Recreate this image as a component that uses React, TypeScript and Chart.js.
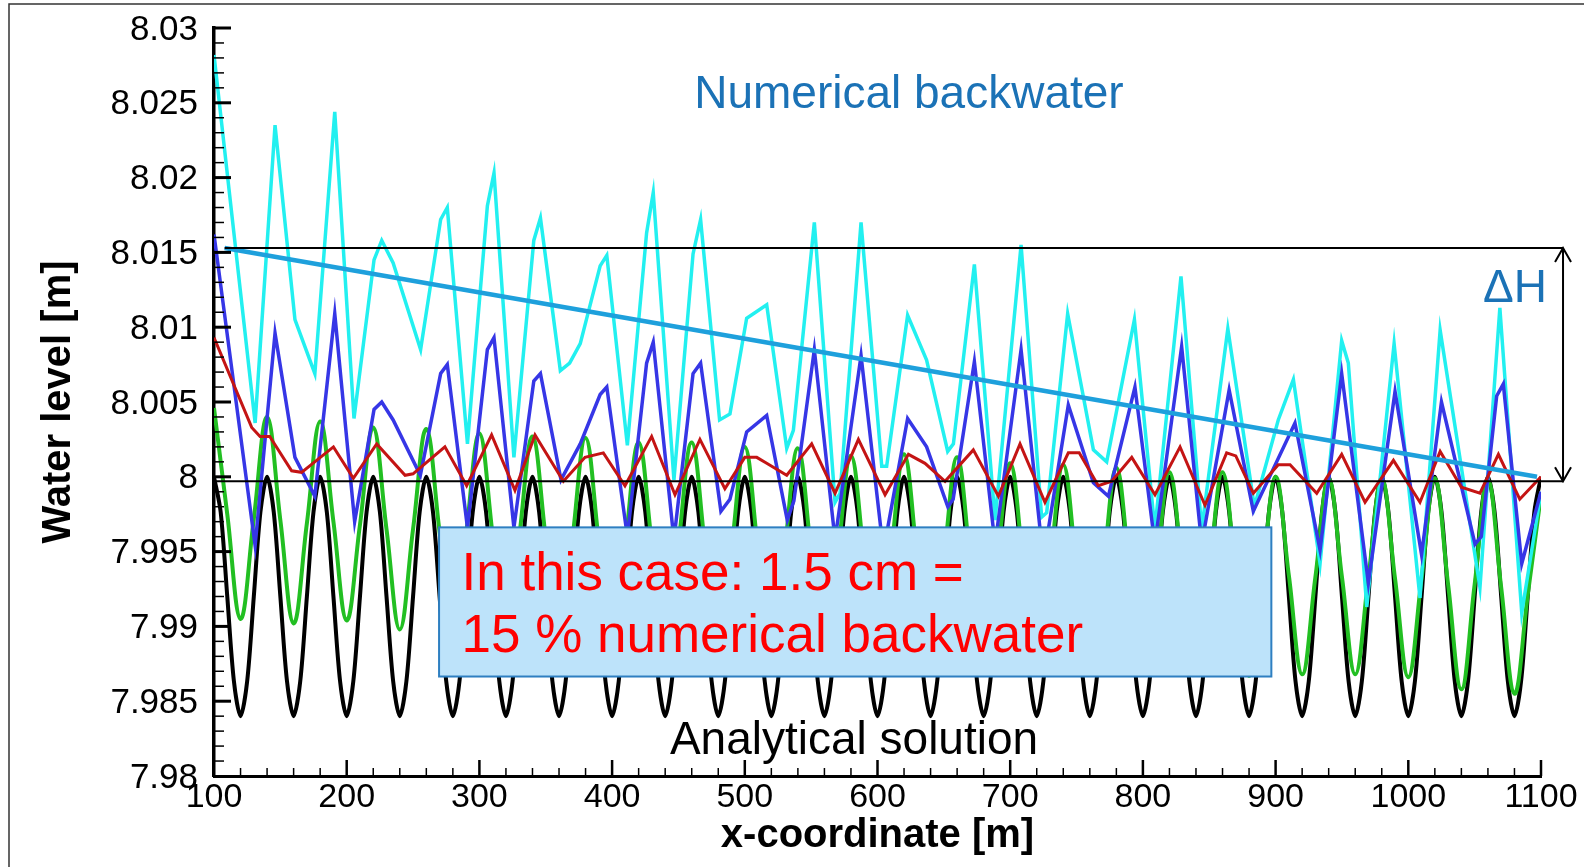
import React, { useEffect, useRef } from "react";
import { Chart, registerables } from "chart.js";

Chart.register(...registerables);

const FONT = '"Liberation Sans", Arial, Helvetica, sans-serif';

// ---- axes ----
const xTickValues = [100, 200, 300, 400, 500, 600, 700, 800, 900, 1000, 1100];
const xTickLabels = ["100", "200", "300", "400", "500", "600", "700", "800", "900", "1000", "1100"];
const yTickValues = [7.98, 7.985, 7.99, 7.995, 8, 8.005, 8.01, 8.015, 8.02, 8.025, 8.03];
const yTickLabels = ["7.98", "7.985", "7.99", "7.995", "8", "8.005", "8.01", "8.015", "8.02", "8.025", "8.03"];

// ---- analytical solution (black) ----
const analyticalX = [
  100, 105, 110, 115, 120, 125, 130, 135, 140, 145, 150, 155, 160, 165, 170, 175, 180, 185, 190, 195,
  200, 205, 210, 215, 220, 225, 230, 235, 240, 245, 250, 255, 260, 265, 270, 275, 280, 285, 290, 295,
  300, 305, 310, 315, 320, 325, 330, 335, 340, 345, 350, 355, 360, 365, 370, 375, 380, 385, 390, 395,
  400, 405, 410, 415, 420, 425, 430, 435, 440, 445, 450, 455, 460, 465, 470, 475, 480, 485, 490, 495,
  500, 505, 510, 515, 520, 525, 530, 535, 540, 545, 550, 555, 560, 565, 570, 575, 580, 585, 590, 595,
  600, 605, 610, 615, 620, 625, 630, 635, 640, 645, 650, 655, 660, 665, 670, 675, 680, 685, 690, 695,
  700, 705, 710, 715, 720, 725, 730, 735, 740, 745, 750, 755, 760, 765, 770, 775, 780, 785, 790, 795,
  800, 805, 810, 815, 820, 825, 830, 835, 840, 845, 850, 855, 860, 865, 870, 875, 880, 885, 890, 895,
  900, 905, 910, 915, 920, 925, 930, 935, 940, 945, 950, 955, 960, 965, 970, 975, 980, 985, 990, 995,
  1000, 1005, 1010, 1015, 1020, 1025, 1030, 1035, 1040, 1045, 1050, 1055, 1060, 1065, 1070, 1075, 1080, 1085, 1090, 1095,
  1100,
];
const analyticalY = [
  8, 7.99766, 7.992, 7.98634, 7.984, 7.98634, 7.992, 7.99766,
  8, 7.99766, 7.992, 7.98634, 7.984, 7.98634, 7.992, 7.99766,
  8, 7.99766, 7.992, 7.98634, 7.984, 7.98634, 7.992, 7.99766,
  8, 7.99766, 7.992, 7.98634, 7.984, 7.98634, 7.992, 7.99766,
  8, 7.99766, 7.992, 7.98634, 7.984, 7.98634, 7.992, 7.99766,
  8, 7.99766, 7.992, 7.98634, 7.984, 7.98634, 7.992, 7.99766,
  8, 7.99766, 7.992, 7.98634, 7.984, 7.98634, 7.992, 7.99766,
  8, 7.99766, 7.992, 7.98634, 7.984, 7.98634, 7.992, 7.99766,
  8, 7.99766, 7.992, 7.98634, 7.984, 7.98634, 7.992, 7.99766,
  8, 7.99766, 7.992, 7.98634, 7.984, 7.98634, 7.992, 7.99766,
  8, 7.99766, 7.992, 7.98634, 7.984, 7.98634, 7.992, 7.99766,
  8, 7.99766, 7.992, 7.98634, 7.984, 7.98634, 7.992, 7.99766,
  8, 7.99766, 7.992, 7.98634, 7.984, 7.98634, 7.992, 7.99766,
  8, 7.99766, 7.992, 7.98634, 7.984, 7.98634, 7.992, 7.99766,
  8, 7.99766, 7.992, 7.98634, 7.984, 7.98634, 7.992, 7.99766,
  8, 7.99766, 7.992, 7.98634, 7.984, 7.98634, 7.992, 7.99766,
  8, 7.99766, 7.992, 7.98634, 7.984, 7.98634, 7.992, 7.99766,
  8, 7.99766, 7.992, 7.98634, 7.984, 7.98634, 7.992, 7.99766,
  8, 7.99766, 7.992, 7.98634, 7.984, 7.98634, 7.992, 7.99766,
  8, 7.99766, 7.992, 7.98634, 7.984, 7.98634, 7.992, 7.99766,
  8, 7.99766, 7.992, 7.98634, 7.984, 7.98634, 7.992, 7.99766,
  8, 7.99766, 7.992, 7.98634, 7.984, 7.98634, 7.992, 7.99766,
  8, 7.99766, 7.992, 7.98634, 7.984, 7.98634, 7.992, 7.99766,
  8, 7.99766, 7.992, 7.98634, 7.984, 7.98634, 7.992, 7.99766,
  8, 7.99766, 7.992, 7.98634, 7.984, 7.98634, 7.992, 7.99766,
  8,
];

// ---- green numerical run ----
const greenX = [
  100, 110, 120, 130, 140, 150, 160, 170, 180, 190, 200, 210, 220, 230, 240, 250, 260, 270, 280, 290,
  300, 310, 320, 330, 340, 350, 360, 370, 380, 390, 400, 410, 420, 430, 440, 450, 460, 470, 480, 490,
  500, 510, 520, 530, 540, 550, 560, 570, 580, 590, 600, 610, 620, 630, 640, 650, 660, 670, 680, 690,
  700, 710, 720, 730, 740, 750, 760, 770, 780, 790, 800, 810, 820, 830, 840, 850, 860, 870, 880, 890,
  900, 910, 920, 930, 940, 950, 960, 970, 980, 990, 1000, 1010, 1020, 1030, 1040, 1050, 1060, 1070, 1080, 1090,
  1100,
];
const greenY = [
  8.0046, 7.9975, 7.9905, 7.9972, 8.004, 7.9971, 7.9902, 7.9969, 8.0037, 7.997,
  7.9904, 7.9968, 8.0033, 7.9965, 7.9898, 7.9965, 8.0032, 7.9963, 7.9895, 7.9962,
  8.0029, 7.9961, 7.9893, 7.996, 8.0027, 7.9959, 7.9891, 7.9958, 8.0026, 7.9957,
  7.9889, 7.9956, 8.0023, 7.9955, 7.9887, 7.9955, 8.0023, 7.9954, 7.9885, 7.9952,
  8.002, 7.9951, 7.9883, 7.9951, 8.0019, 7.995, 7.9881, 7.9947, 8.0014, 7.9946,
  7.9879, 7.9947, 8.0015, 7.9946, 7.9877, 7.9945, 8.0013, 7.9944, 7.9875, 7.9942,
  8.0009, 7.9941, 7.9873, 7.994, 8.0008, 7.9939, 7.9871, 7.9938, 8.0006, 7.9938,
  7.987, 7.9936, 8.0003, 7.9936, 7.9869, 7.9936, 8.0003, 7.9935, 7.9867, 7.9933,
  8.0, 7.9934, 7.9868, 7.9933, 7.9999, 7.9933, 7.9868, 7.9933, 7.9999, 7.9932,
  7.9866, 7.9932, 7.9999, 7.9928, 7.9858, 7.9928, 7.9998, 7.9926, 7.9855, 7.9921,
  7.9988,
];

// ---- red numerical run ----
const redX = [
  100, 128.4, 134.7, 142, 158.5, 166, 190, 205, 222.6, 244, 250, 274, 290.4, 309.2, 326.8, 341.9,
  363.3, 379.6, 393.4, 409.7, 429.8, 447.4, 466.2, 485, 500, 509, 516.5, 531.6, 550.4, 568, 585.6,
  605.7, 623.3, 635.8, 650.9, 672.2, 691.1, 707.4, 726.2, 743.8, 752, 766.4, 776.5, 791.6, 809.1,
  828, 846.8, 863.1, 870, 883.2, 902, 910.9, 931, 949.8, 967.4, 988.8, 1008.8, 1024, 1040, 1054,
  1067.9, 1084, 1100,
];
const redY = [
  8.0093, 8.0033, 8.0027, 8.0027, 8.0004, 8.0003, 8.002, 7.9999, 8.0022, 8.0001, 8.0002, 8.002,
  7.9994, 8.0028, 7.9991, 8.0028, 7.9997, 8.0013, 8.0016, 7.9994, 8.0027, 7.9988, 8.0025, 7.9992,
  8.0013, 8.0013, 8.0009, 8.0001, 8.0022, 7.9989, 8.0025, 7.9988, 8.0015, 8.0009, 7.9997, 8.0018,
  7.9987, 8.0022, 7.9983, 8.0016, 8.0016, 7.9994, 7.9997, 8.0013, 7.9988, 8.002, 7.9981, 8.0016,
  8.0014, 7.9989, 8.0008, 8.0008, 7.9989, 8.0015, 7.9983, 8.0011, 7.9983, 8.0017, 7.9993, 7.9989,
  8.0015, 7.9985, 8.0,
];

// ---- blue numerical run ----
const blueX = [
  100, 131, 146, 161, 176, 191, 206, 220.6, 226.4, 235, 255.5, 270.8, 275.8, 291, 306, 311, 326,
  341, 346, 361.5, 376, 391, 396, 411.5, 426, 431, 446.6, 461, 466.7, 482, 488.8, 501.4, 516.5,
  532, 537, 552.4, 568, 587.6, 603.2, 606.9, 622.7, 637, 653, 657, 673, 688.6, 708.2, 723.7, 727.5,
  743.8, 762.7, 774, 794, 809, 829.2, 844.3, 865, 883.2, 914.6, 933.5, 949.8, 969.9, 990, 1010,
  1025, 1050.3, 1055, 1066.6, 1071.6, 1085.5, 1100,
];
const blueY = [
  8.0162, 7.9954, 8.0096, 8.0013, 7.9987, 8.0109, 7.997, 8.0045, 8.005, 8.0038, 8.0001, 8.0069,
  8.0075, 7.9966, 8.0085, 8.0093, 7.9966, 8.0064, 8.0069, 7.9998, 8.0022, 8.0055, 8.006, 7.996,
  8.0076, 8.009, 7.9958, 8.0069, 8.0076, 7.9977, 7.9985, 8.003, 8.0041, 7.9971, 7.9984, 8.0085,
  7.9958, 8.0081, 7.996, 7.9962, 8.0039, 8.002, 7.998, 7.9985, 8.0077, 7.9955, 8.0085, 7.9955,
  7.9958, 8.0048, 7.9996, 7.9987, 8.006, 7.9955, 8.0087, 7.9955, 8.0058, 7.9977, 8.0036, 7.9951,
  8.0069, 7.9929, 8.0057, 7.9948, 8.005, 7.9955, 7.996, 8.0054, 8.0062, 7.9942, 7.999,
];

// ---- cyan numerical run ----
const cyanX = [
  100, 131, 146, 161, 176, 191, 205.5, 220.6, 226.4, 235, 255.7, 270.8, 275.8, 291, 306, 311, 326,
  341, 346, 361, 368, 376, 391, 396, 411.5, 426, 431, 446.6, 461, 466.7, 481, 488.8, 501.4, 516.5,
  531.6, 536.6, 552.4, 568, 571.8, 587.6, 603.2, 606.9, 622.7, 637, 652.9, 657.2, 673, 688.6, 708.2,
  723.7, 727.5, 743.3, 762.7, 772.7, 793.6, 809, 828.7, 844.3, 864, 884, 902, 913.4, 933.5, 949.8,
  954.8, 968.7, 989.3, 1008.8, 1024, 1054, 1069, 1085.5, 1100,
];
const cyanY = [
  8.0282, 8.0036, 8.0235, 8.0105, 8.0069, 8.0244, 8.0039, 8.0145, 8.0158, 8.0143, 8.0085, 8.0172,
  8.018, 8.0022, 8.0181, 8.0203, 8.0013, 8.0158, 8.0173, 8.0071, 8.0076, 8.0089, 8.0141, 8.0148,
  8.0021, 8.0163, 8.019, 7.9998, 8.0149, 8.0172, 8.0038, 8.0042, 8.0106, 8.0115, 8.0019, 8.0031,
  8.017, 7.9983, 7.9989, 8.017, 8.0007, 8.0007, 8.0108, 8.0078, 8.0017, 8.0022, 8.0142, 7.9971,
  8.0155, 7.9973, 7.9976, 8.0109, 8.0018, 8.001, 8.0105, 7.9965, 8.0134, 7.9965, 8.0099, 7.998,
  8.0038, 8.0065, 7.9942, 8.0091, 8.0076, 7.9913, 8.0089, 7.9919, 8.0098, 7.9926, 8.0113, 7.9909,
  7.999,
];

// ---- backwater construction ----
const trendX = [108, 1097];
const trendY = [8.0153, 8.0];
const zeroLineX = [100, 1116.6];
const zeroLineY = [7.9997, 7.9997];
const deltaLineX = [108, 1116.6];
const deltaLineY = [8.0153, 8.0153];

const pts = (xs: number[], ys: number[]) =>
  xs.slice(0, Math.min(xs.length, ys.length)).map((xv, i) => ({ x: xv, y: ys[i] }));

const decorPlugin = {
  id: "decor",
  beforeDraw(chart: any) {
    const ctx = chart.ctx;
    ctx.save();
    ctx.fillStyle = "#ffffff";
    ctx.fillRect(0, 0, chart.width, chart.height);
    ctx.strokeStyle = "#333333";
    ctx.lineWidth = 1.5;
    ctx.beginPath();
    ctx.moveTo(9, chart.height);
    ctx.lineTo(9, 4);
    ctx.lineTo(chart.width, 4);
    ctx.stroke();
    ctx.restore();
  },
  afterDatasetsDraw(chart: any) {
    const ctx = chart.ctx;
    const xs = chart.scales.x;
    const ys = chart.scales.y;
    const area = chart.chartArea;
    ctx.save();
    // inward ticks
    ctx.strokeStyle = "#000";
    for (let v = 120; v <= 1100; v += 20) {
      const major = v % 100 === 0;
      const px = xs.getPixelForValue(v);
      ctx.lineWidth = major ? 2.5 : 1.5;
      ctx.beginPath();
      ctx.moveTo(px, area.bottom);
      ctx.lineTo(px, area.bottom - (major ? 16 : 8));
      ctx.stroke();
    }
    for (let i = 1; i <= 50; i++) {
      const major = i % 5 === 0;
      const py = ys.getPixelForValue(7.98 + i * 0.001);
      ctx.lineWidth = major ? 3 : 1.5;
      ctx.beginPath();
      ctx.moveTo(area.left, py);
      ctx.lineTo(area.left + (major ? 17 : 10), py);
      ctx.stroke();
    }

    // delta H arrow
    const ax = xs.getPixelForValue(1116.6);
    const ay0 = ys.getPixelForValue(8.0153);
    const ay1 = ys.getPixelForValue(7.9997);
    ctx.lineWidth = 2;
    ctx.strokeStyle = "#000";
    ctx.beginPath();
    ctx.moveTo(ax, ay0);
    ctx.lineTo(ax, ay1);
    ctx.moveTo(ax - 8, ay0 + 14);
    ctx.lineTo(ax, ay0);
    ctx.lineTo(ax + 8, ay0 + 14);
    ctx.moveTo(ax - 8, ay1 - 14);
    ctx.lineTo(ax, ay1);
    ctx.lineTo(ax + 8, ay1 - 14);
    ctx.stroke();

    // texts
    ctx.fillStyle = "#1b72b6";
    ctx.font = `46px ${FONT}`;
    ctx.textAlign = "center";
    ctx.textBaseline = "alphabetic";
    ctx.fillText("Numerical backwater", xs.getPixelForValue(623.7), ys.getPixelForValue(8.02466));
    ctx.fillText("\u0394H", xs.getPixelForValue(1080.4), ys.getPixelForValue(8.01171));

    ctx.fillStyle = "#000";
    ctx.fillText("Analytical solution", xs.getPixelForValue(582.3), ys.getPixelForValue(7.98147));

    // info box
    const bx0 = xs.getPixelForValue(269.6);
    const bx1 = xs.getPixelForValue(896.8);
    const by0 = ys.getPixelForValue(7.99662);
    const by1 = ys.getPixelForValue(7.98665);
    ctx.fillStyle = "#bde3fa";
    ctx.fillRect(bx0, by0, bx1 - bx0, by1 - by0);
    ctx.strokeStyle = "#2e7fc1";
    ctx.lineWidth = 2;
    ctx.strokeRect(bx0, by0, bx1 - bx0, by1 - by0);
    ctx.fillStyle = "#ff0000";
    ctx.font = `53px ${FONT}`;
    ctx.textAlign = "left";
    ctx.fillText("In this case: 1.5 cm =", xs.getPixelForValue(286.5), ys.getPixelForValue(7.99243));
    ctx.fillText("15 % numerical backwater", xs.getPixelForValue(286.5), ys.getPixelForValue(7.9883));
    ctx.restore();
  },
};

export default function App() {
  const canvasRef = useRef<HTMLCanvasElement | null>(null);

  useEffect(() => {
    const canvas = canvasRef.current;
    if (!canvas) return;
    const line = (data: any, color: string, width: number, order: number, extra: any = {}) => ({
      data,
      borderColor: color,
      backgroundColor: color,
      borderWidth: width,
      pointRadius: 0,
      fill: false,
      tension: 0,
      order,
      ...extra,
    });
    const chart = new Chart(canvas, {
      type: "line",
      data: {
        datasets: [
          line(pts(zeroLineX, zeroLineY), "#000000", 2, 0, { clip: false }),
          line(pts(deltaLineX, deltaLineY), "#000000", 2, 1, { clip: false }),
          line(pts(trendX, trendY), "#1ea0dc", 4.5, 2),
          line(pts(redX, redY), "#c41414", 3, 3),
          line(pts(blueX, blueY), "#3636e6", 3.5, 4),
          line(pts(cyanX, cyanY), "#22f0f0", 3.5, 5),
          line(pts(greenX, greenY), "#22bf22", 4, 6, { tension: 0.4 }),
          line(pts(analyticalX, analyticalY), "#000000", 4, 7, { tension: 0.3 }),
        ],
      },
      options: {
        responsive: false,
        animation: false,
        devicePixelRatio: 1,
        parsing: true,
        layout: { padding: { top: 28, right: 43, left: 0, bottom: 0 } },
        plugins: { legend: { display: false }, tooltip: { enabled: false } },
        scales: {
          x: {
            type: "linear",
            min: 100,
            max: 1100,
            afterBuildTicks: (s: any) => {
              s.ticks = xTickValues.map((v) => ({ value: v }));
            },
            afterFit: (s: any) => {
              s.height = 91;
              s.paddingLeft = 0;
              s.paddingRight = 0;
            },
            ticks: {
              autoSkip: false,
              maxRotation: 0,
              minRotation: 0,
              padding: 1,
              color: "#000",
              font: { family: FONT, size: 34 },
              callback: (v: any) => xTickLabels[xTickValues.indexOf(Number(v))] ?? "",
            },
            grid: { display: false, drawTicks: false },
            border: { display: true, color: "#000", width: 3 },
            title: {
              display: true,
              text: "x-coordinate [m]",
              color: "#000",
              font: { family: FONT, size: 40, weight: "bold" },
              padding: { top: 0, bottom: 7 },
            },
          },
          y: {
            type: "linear",
            min: 7.98,
            max: 8.03,
            afterBuildTicks: (s: any) => {
              s.ticks = yTickValues.map((v) => ({ value: v }));
            },
            afterFit: (s: any) => {
              s.width = 214;
              s.paddingTop = 0;
              s.paddingBottom = 0;
            },
            ticks: {
              autoSkip: false,
              padding: 16,
              labelOffset: 2,
              color: "#000",
              font: { family: FONT, size: 35 },
              callback: (v: any) => {
                let best = 0;
                for (let i = 1; i < yTickValues.length; i++) {
                  if (Math.abs(yTickValues[i] - v) < Math.abs(yTickValues[best] - v)) best = i;
                }
                return yTickLabels[best];
              },
            },
            grid: { display: false, drawTicks: false },
            border: { display: true, color: "#000", width: 3.5 },
            title: {
              display: true,
              text: "Water level [m]",
              color: "#000",
              font: { family: FONT, size: 40, weight: "bold" },
              padding: { top: 35, bottom: 0 },
            },
          },
        },
      },
      plugins: [decorPlugin],
    } as any);
    return () => chart.destroy();
  }, []);

  return (
    <div style={{ position: "absolute", left: 0, top: 0, width: 1584, height: 867, background: "#fff" }}>
      <canvas ref={canvasRef} width={1584} height={867} style={{ display: "block", width: 1584, height: 867 }} />
    </div>
  );
}
